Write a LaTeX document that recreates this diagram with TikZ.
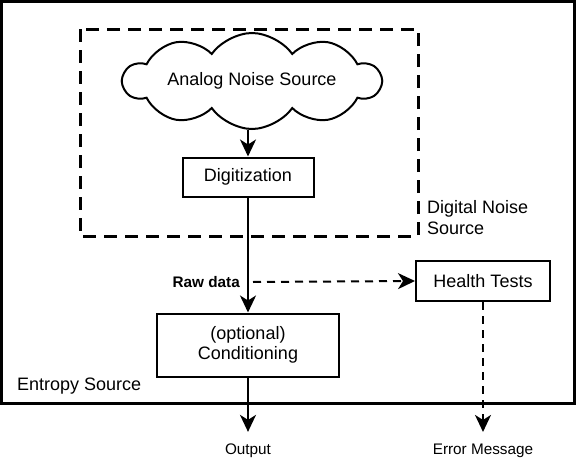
\documentclass[tikz,border=0pt]{standalone}
\usepackage{fontspec}
\setmainfont{Liberation Sans}
\usetikzlibrary{shapes.symbols,arrows.meta}

\begin{document}
\begin{tikzpicture}[x=1pt, y=-1pt]
	\tikzstyle{box} = [draw, line width=2pt, font=\fontsize{18}{20}\selectfont, align=center, inner sep=0pt]
	\tikzstyle{lbl} = [font=\fontsize{18}{21}\selectfont, inner sep=0pt, align=left]
	\tikzstyle{small} = [font=\fontsize{15.3}{18}\selectfont, inner sep=0pt]
	\tikzstyle{flow} = [line width=2pt, -{Stealth[length=17pt, width=16pt, inset=5pt]}]
	\useasboundingbox (0,0) rectangle (576,471);
	\draw [line width=3pt] (1.5,1.5) rectangle (574.5,403);
	\draw [line width=3pt, dash pattern=on 13pt off 8pt] (80,29) rectangle (418,236);
	\node (Cloud) [cloud, draw, line width=2pt, cloud puffs=10, cloud puff arc=110, cloud ignores aspect, minimum width=257pt, minimum height=96pt, inner sep=0pt, font=\fontsize{18}{20}\selectfont] at (252,81) {Analog Noise Source};
	\node (Digit) [box, minimum width=131pt, minimum height=39pt] at (248,177) {Digitization};
	\node (Cond) [box, minimum width=182pt, minimum height=63pt] at (248,345) {(optional)\\Conditioning};
	\node (Health) [box, minimum width=134pt, minimum height=40pt] at (483,281) {Health Tests};
	\node (DNS) [lbl, anchor=west] at (427,218) {Digital Noise\\Source};
	\node (Entropy) [lbl, anchor=west] at (17,386) {Entropy Source};
	\node (Raw) [small, font=\bfseries\fontsize{15.3}{18}\selectfont, anchor=east] at (240,282) {Raw data};
	\coordinate (RawOut) at (253,282);
	\node (Output) [small] at (248,451) {Output};
	\node (Error) [small] at (483,451) {Error Message};
	\draw [flow] (Cloud.south -| Digit.north) -- (Digit.north);
	\draw [flow] (Digit.south) -- (Cond.north);
	\draw [flow, dash pattern=on 8pt off 6pt] (RawOut) -- (Health.west);
	\draw [flow, shorten >=12pt] (Cond.south) -- (Output.north);
	\draw [flow, dash pattern=on 8pt off 6pt, shorten >=12pt] (Health.south) -- (Error.north);
\end{tikzpicture}
\end{document}
